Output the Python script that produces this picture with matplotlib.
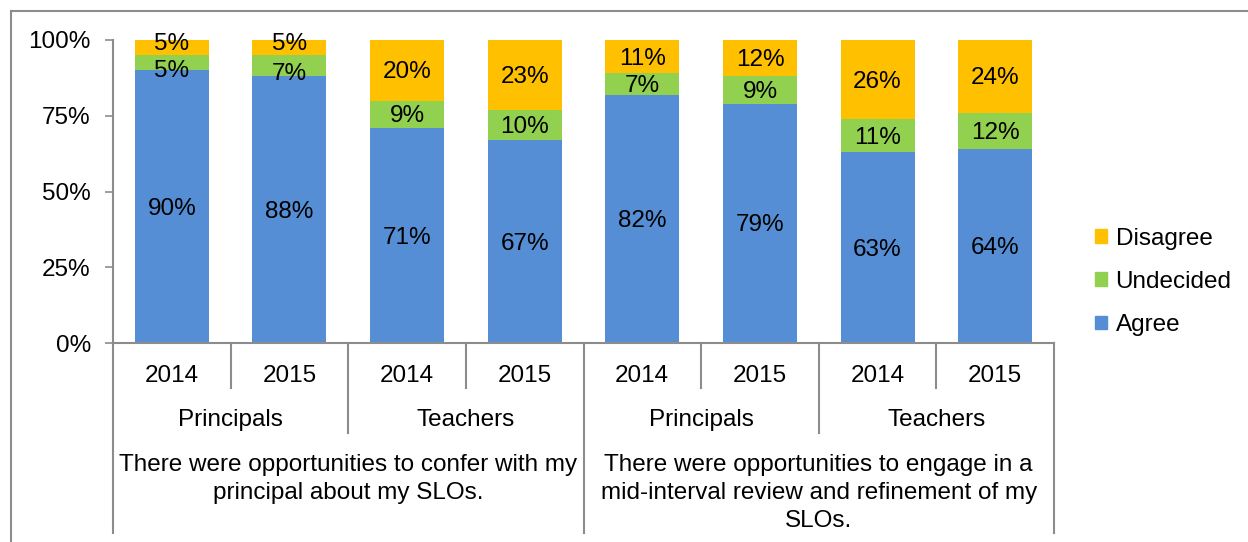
import matplotlib.pyplot as plt
from matplotlib.lines import Line2D
from matplotlib.patches import Patch
import matplotlib.transforms as mtransforms

plt.rcParams['font.family'] = ['Liberation Sans', 'DejaVu Sans']

# data
years = ["2014", "2015", "2014", "2015", "2014", "2015", "2014", "2015"]
groups = ["Principals", "Teachers", "Principals", "Teachers"]
questions = ["There were opportunities to confer with my\nprincipal about my SLOs.",
             "There were opportunities to engage in a\nmid-interval review and refinement of my\nSLOs."]
agree = [90, 88, 71, 67, 82, 79, 63, 64]
undecided = [5, 7, 9, 10, 7, 9, 11, 12]
disagree = [5, 5, 20, 23, 11, 12, 26, 24]

c_agree = "#558ED5"
c_undec = "#92D050"
c_disag = "#FFC000"
grid_c = "#8c8c8c"
fs = 17.5

W, H = 1248, 542
fig = plt.figure(figsize=(W / 100, H / 100), dpi=100)

# pixel layout of plot area
x0, x1, y0, y1 = 113, 1054, 343, 40
ax = fig.add_axes([x0 / W, 1 - y0 / H, (x1 - x0) / W, (y0 - y1) / H])

xs = list(range(len(years)))
bw = 0.63
ax.bar(xs, agree, bw, color=c_agree)
bot3 = [a + u for a, u in zip(agree, undecided)]
ax.bar(xs, undecided, bw, bottom=agree, color=c_undec)
ax.bar(xs, disagree, bw, bottom=bot3, color=c_disag)

for i in xs:
    ax.text(i, agree[i] / 2 - 0.7, f"{agree[i]}%", ha="center", va="center", fontsize=fs)
    # thin top segments: nudge labels apart so they don't collide
    du, dd = -0.7, -0.7
    if disagree[i] < 6:
        du, dd = -2.8, 1.2
    ax.text(i, agree[i] + undecided[i] / 2 + du, f"{undecided[i]}%", ha="center", va="center", fontsize=fs)
    ax.text(i, bot3[i] + disagree[i] / 2 + dd, f"{disagree[i]}%", ha="center", va="center", fontsize=fs)

ax.set_xlim(-0.5, len(years) - 0.5)
ax.set_ylim(0, 100)
ax.set_yticks([0, 25, 50, 75, 100])
ax.set_yticklabels([f"{v}%" for v in [0, 25, 50, 75, 100]], fontsize=fs)
ax.tick_params(axis="y", length=6, width=1.2, color=grid_c, pad=10)
ax.set_xticks([])
for s in ["top", "right"]:
    ax.spines[s].set_visible(False)
for s in ["left", "bottom"]:
    ax.spines[s].set_color(grid_c)
    ax.spines[s].set_linewidth(1.5)

# multi-level category axis
trans = mtransforms.blended_transform_factory(ax.transData, ax.transAxes)
ph = y0 - y1


def ay(p):
    return (y0 - p) / ph


for k in range(len(years) + 1):
    xb = k - 0.5
    if k % 4 == 0:
        yend = ay(533)
    elif k % 2 == 0:
        yend = ay(433)
    else:
        yend = ay(388)
    ax.add_line(Line2D([xb, xb], [0, yend], transform=trans, color=grid_c, lw=1.5, clip_on=False))

for i, y in enumerate(years):
    ax.text(i, ay(376), y, transform=trans, ha="center", va="center", fontsize=fs)
for j, g in enumerate(groups):
    ax.text(2 * j + 0.5, ay(420), g, transform=trans, ha="center", va="center", fontsize=fs)
for j, q in enumerate(questions):
    ax.text(4 * j + 1.5, ay(454), q, transform=trans, ha="center", va="top", fontsize=fs,
            linespacing=1.34)

handles = [Patch(color=c_disag), Patch(color=c_undec), Patch(color=c_agree)]
fig.legend(handles, ["Disagree", "Undecided", "Agree"], loc="center left",
           bbox_to_anchor=(1073 / W, 1 - 282 / H), frameon=False, fontsize=fs,
           handlelength=0.5, handleheight=0.5, handletextpad=0.35, labelspacing=0.87)

# outer chart frame
fig.add_artist(Line2D([11 / W, 1], [1 - 10.5 / H, 1 - 10.5 / H], transform=fig.transFigure,
                      color=grid_c, lw=1.5))
fig.add_artist(Line2D([11 / W, 11 / W], [0, 1 - 10.5 / H], transform=fig.transFigure,
                      color=grid_c, lw=1.5))

fig.savefig("out.png", dpi=100)
